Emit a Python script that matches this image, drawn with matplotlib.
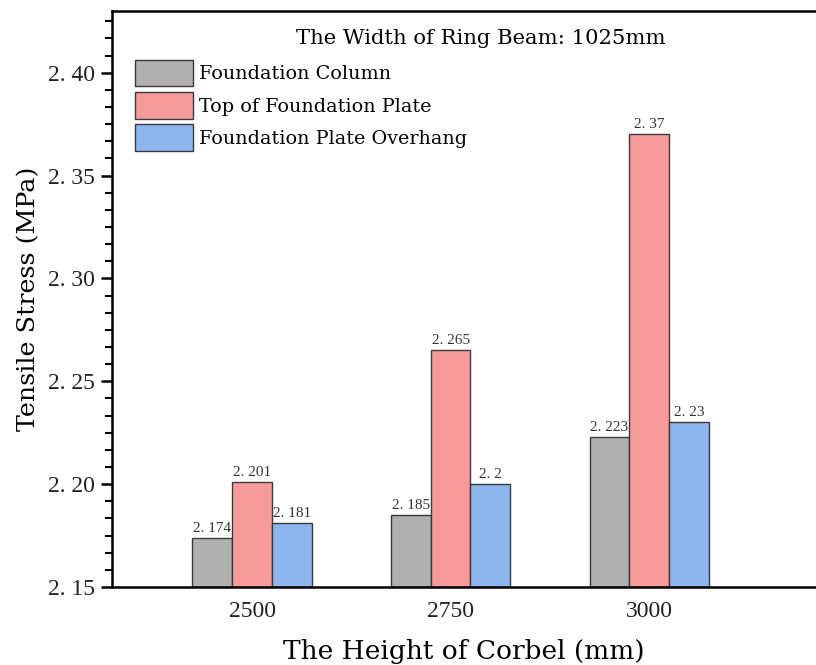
import numpy as np
import matplotlib.pyplot as plt
from matplotlib.ticker import AutoMinorLocator, FuncFormatter

# corbel heights and tensile stress for each location (ring beam width 1025mm)
heights = ['2500', '2750', '3000']
column = [2.174, 2.185, 2.223]
plate_top = [2.201, 2.265, 2.37]
overhang = [2.181, 2.2, 2.23]
series_names = ['Foundation Column', 'Top of Foundation Plate', 'Foundation Plate Overhang']
colors = ['#b0b0b0', '#f79a9a', '#8db6ef']

serif = 'DejaVu Serif'
num_font = 'Liberation Serif'

fig = plt.figure(figsize=(8.16, 6.65), dpi=100)
ax = fig.add_axes([0.1373, 0.1173, 0.8627, 0.8662])

x = np.arange(len(heights))
w = 0.2
for i, (vals, name, c) in enumerate(zip([column, plate_top, overhang], series_names, colors)):
    pos = x + (i - 1) * w
    ax.bar(pos, np.array(vals) - 2.15, width=w, bottom=2.15, color=c,
           edgecolor='#3a3a3a', linewidth=1.0, label=name, zorder=2)
    for xp, v in zip(pos, vals):
        txt = f'{v:g}'.replace('.', '. ')
        ax.text(xp, v + 0.0015, txt, ha='center', va='bottom',
                fontsize=11, family=num_font, color='#333333')

ax.set_xlim(-0.705, 2.84)
ax.set_ylim(2.15, 2.43)
ax.set_yticks([2.15, 2.20, 2.25, 2.30, 2.35, 2.40])
ax.yaxis.set_major_formatter(FuncFormatter(lambda v, p: f'{v:.2f}'.replace('.', '. ')))
ax.yaxis.set_minor_locator(AutoMinorLocator(6))
ax.set_xticks(x)
ax.set_xticklabels(heights)

for lbl in ax.get_yticklabels() + ax.get_xticklabels():
    lbl.set_family(num_font)
    lbl.set_fontsize(17)
    lbl.set_color('#222222')

ax.tick_params(axis='y', which='major', direction='out', length=8, width=1.8, pad=4)
ax.tick_params(axis='y', which='minor', direction='out', length=5, width=1.5)
ax.tick_params(axis='x', which='both', length=0, pad=10)

for s in ['left', 'bottom', 'top']:
    ax.spines[s].set_linewidth(1.8)
ax.spines['right'].set_visible(False)

ax.set_xlabel('The Height of Corbel (mm)', family=serif, fontsize=19, labelpad=12)
ax.set_ylabel('Tensile Stress (MPa)', family=serif, fontsize=18.3, labelpad=6)

ax.text(0.524, 0.953, 'The Width of Ring Beam: 1025mm', transform=ax.transAxes,
        ha='center', va='center', family=serif, fontsize=15.2)

ax.legend(loc='upper left', bbox_to_anchor=(0.0327, 0.915), frameon=False,
          borderpad=0, borderaxespad=0, handlelength=3.0, handleheight=1.75,
          labelspacing=0.3, handletextpad=0.36,
          prop={'family': serif, 'size': 13.8})

fig.savefig('out.png', dpi=100)
